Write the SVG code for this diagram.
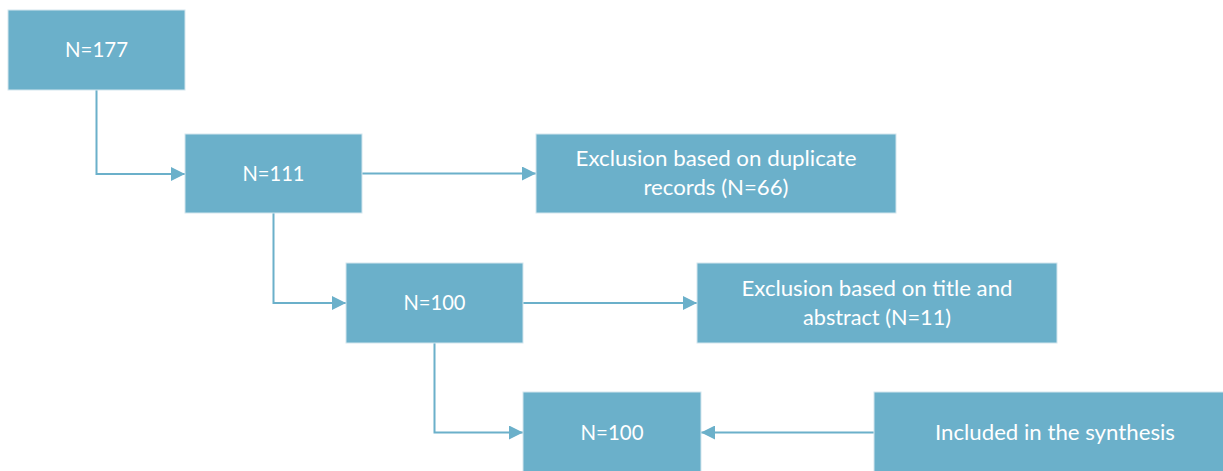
<svg xmlns="http://www.w3.org/2000/svg" width="1223" height="471" viewBox="0 0 1223 471">
<style>
.box{fill:#6BB0CA;stroke:#D3E6EE;stroke-width:1}
.t{font-family:Lato,"Liberation Sans",sans-serif;font-size:21px;fill:#FFFFFF;text-anchor:middle}
.c{fill:none;stroke:#6BB0CA;stroke-width:2}
</style>
<defs>
<marker id="ah" markerWidth="14" markerHeight="14" refX="14" refY="7" orient="auto" markerUnits="userSpaceOnUse">
<path d="M0,0 L14,7 L0,14 Z" fill="#6BB0CA"/>
</marker>
</defs>
<rect width="1223" height="471" fill="#FFFFFF"/>
<g id="connectors">
<path class="c" d="M96.5,90 V174 H185" marker-end="url(#ah)"/>
<path class="c" d="M362,173.5 H536" marker-end="url(#ah)"/>
<path class="c" d="M273.5,213 V303 H346" marker-end="url(#ah)"/>
<path class="c" d="M523,303 H697" marker-end="url(#ah)"/>
<path class="c" d="M434.5,343 V432.5 H523" marker-end="url(#ah)"/>
<path class="c" d="M874,432.5 H701" marker-end="url(#ah)"/>
</g>
<g id="n177">
<rect class="box" x="8" y="10" width="177" height="80"/>
<text class="t" x="96.5" y="57" textLength="63" lengthAdjust="spacingAndGlyphs">N=177</text>
</g>
<g id="n111">
<rect class="box" x="185" y="134" width="177" height="79"/>
<text class="t" x="273.5" y="180.5" textLength="62" lengthAdjust="spacingAndGlyphs">N=111</text>
</g>
<g id="excl_dup">
<rect class="box" x="536" y="134" width="360" height="79"/>
<text class="t" x="716" y="165.5" textLength="281" lengthAdjust="spacingAndGlyphs">Exclusion based on duplicate</text>
<text class="t" x="716" y="194.5" textLength="145" lengthAdjust="spacingAndGlyphs">records (N=66)</text>
</g>
<g id="n100a">
<rect class="box" x="346" y="263" width="177" height="80"/>
<text class="t" x="434.5" y="310" textLength="62" lengthAdjust="spacingAndGlyphs">N=100</text>
</g>
<g id="excl_title">
<rect class="box" x="697" y="263" width="360" height="80"/>
<text class="t" x="877" y="296" textLength="271" lengthAdjust="spacingAndGlyphs">Exclusion based on title and</text>
<text class="t" x="877" y="325" textLength="148" lengthAdjust="spacingAndGlyphs">abstract (N=11)</text>
</g>
<g id="n100b">
<rect class="box" x="523" y="392" width="178" height="80"/>
<text class="t" x="612" y="439.5" textLength="63" lengthAdjust="spacingAndGlyphs">N=100</text>
</g>
<g id="included">
<rect class="box" x="874" y="392" width="362" height="80"/>
<text class="t" x="1055" y="439.5" textLength="240" lengthAdjust="spacingAndGlyphs">Included in the synthesis</text>
</g>
</svg>
